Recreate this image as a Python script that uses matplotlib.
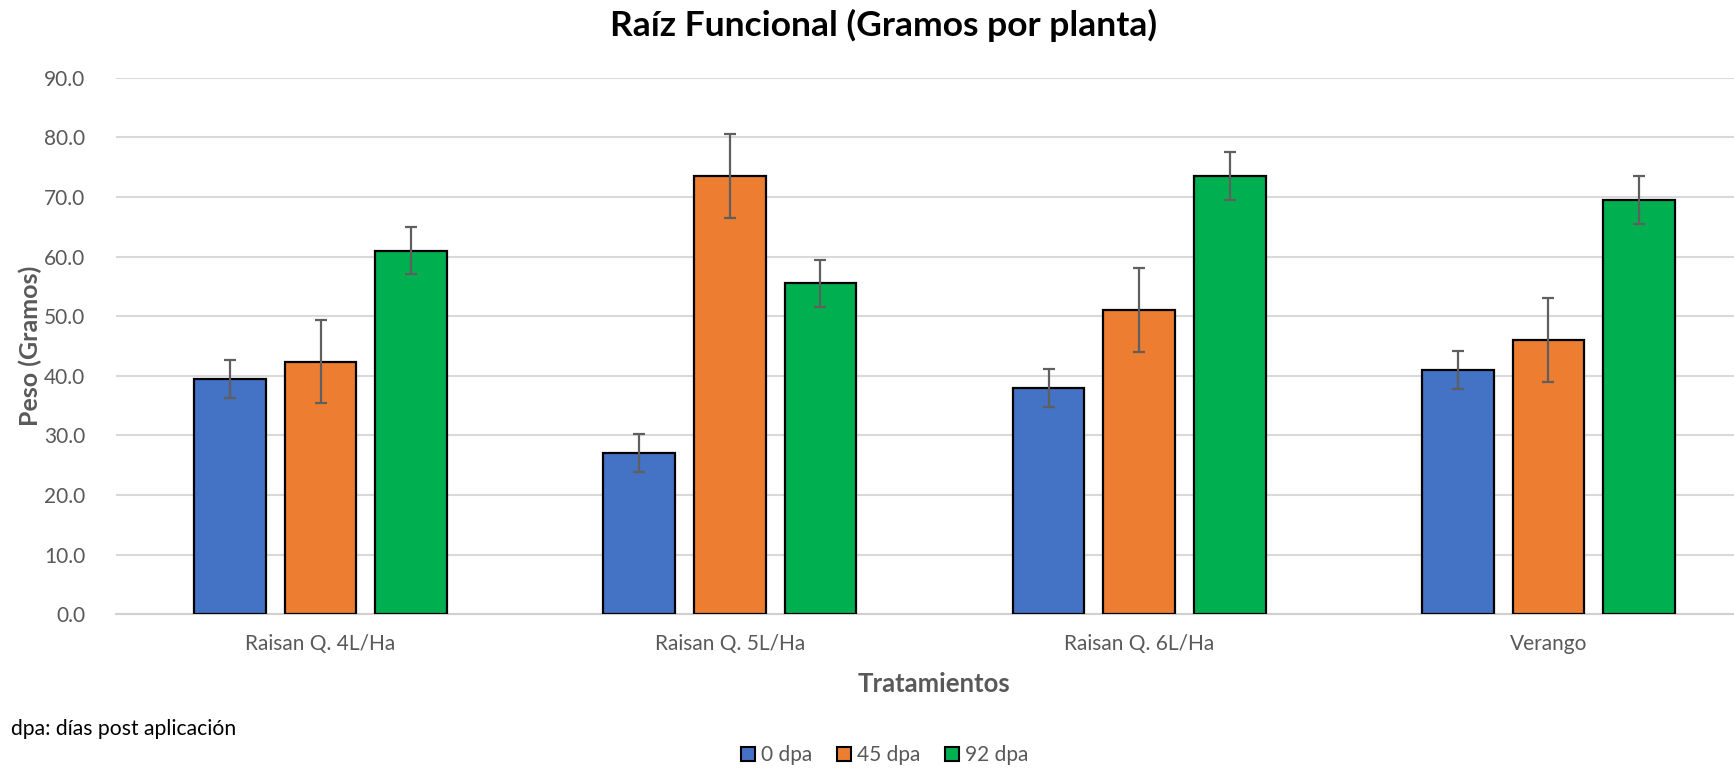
import matplotlib
matplotlib.use("Agg")
import matplotlib.pyplot as plt
import numpy as np
from matplotlib.ticker import FormatStrFormatter, MultipleLocator
from matplotlib.lines import Line2D

plt.rcParams['font.family'] = ['Lato', 'DejaVu Sans']

categories = ["Raisan Q. 4L/Ha", "Raisan Q. 5L/Ha", "Raisan Q. 6L/Ha", "Verango"]
series_names = ["0 dpa", "45 dpa", "92 dpa"]
vals_0 = [39.4, 27.0, 38.0, 41.0]
vals_45 = [42.4, 73.5, 51.0, 46.0]
vals_92 = [61.0, 55.5, 73.5, 69.5]
err_0 = [3.2, 3.2, 3.2, 3.2]
err_45 = [7.0, 7.0, 7.0, 7.0]
err_92 = [4.0, 4.0, 4.0, 4.0]
colors = ["#4472C4", "#ED7D31", "#00B050"]

title = "Raíz Funcional (Gramos por planta)"
xlabel = "Tratamientos"
ylabel = "Peso (Gramos)"
note = "dpa: días post aplicación"

W, H = 1734, 770
fig = plt.figure(figsize=(W / 100, H / 100), dpi=100)
left, right, bottom, top = 116, 1753, 614.3, 77.7
ax = fig.add_axes([left / W, (H - bottom) / H, (right - left) / W, (bottom - top) / H])

x = np.arange(len(categories))
bw = 0.175
pitch = 0.2214
tick_color = "#595959"
for i, (vals, errs) in enumerate([(vals_0, err_0), (vals_45, err_45), (vals_92, err_92)]):
    pos = x + (i - 1) * pitch
    ax.bar(pos, vals, width=bw, color=colors[i], edgecolor="black", linewidth=1.6, zorder=3)
    ax.errorbar(pos, vals, yerr=errs, fmt="none", ecolor="#5F5F5F", elinewidth=1.6,
                capsize=4.3, capthick=1.6, zorder=4)

ax.set_xlim(-0.5, len(categories) - 0.5)
ax.set_ylim(0, 90)
ax.yaxis.set_major_locator(MultipleLocator(10))
ax.yaxis.set_major_formatter(FormatStrFormatter("%.1f"))
ax.grid(axis="y", color="#D9D9D9", linewidth=1.5, zorder=0)
ax.set_axisbelow(True)
for s in ["top", "right", "left"]:
    ax.spines[s].set_visible(False)
ax.spines["bottom"].set_color("#D0D0D0")
ax.spines["bottom"].set_linewidth(1.5)
ax.spines["bottom"].set_zorder(2)
ax.tick_params(axis="both", length=0, labelsize=15, labelcolor=tick_color)
ax.tick_params(axis="y", pad=22)
ax.tick_params(axis="x", pad=14)
ax.set_xticks(x)
ax.set_xticklabels(categories)

fig.text(883 / W, 1 - 25 / H, title, ha="center", va="center", fontsize=25.5, fontweight="bold", color="black")
fig.text(934 / W, 1 - 684 / H, xlabel, ha="center", va="center", fontsize=18.5, fontweight="bold", color=tick_color)
fig.text(30 / W, 1 - 346 / H, ylabel, ha="center", va="center", rotation=90, fontsize=18, fontweight="bold", color=tick_color)
fig.text(11 / W, 1 - 729 / H, note, ha="left", va="center", fontsize=15.2, color="black")

handles = [Line2D([0], [0], marker="s", linestyle="none", markersize=10.5, markerfacecolor=c,
                  markeredgecolor="black", markeredgewidth=1.5) for c in colors]
fig.legend(handles, series_names, loc="center", bbox_to_anchor=(884 / W, 1 - 755 / H), ncol=3,
           frameon=False, fontsize=15, labelcolor=tick_color, handletextpad=0.25,
           columnspacing=1.1, handlelength=0.8)

fig.savefig("out.png", dpi=100)
